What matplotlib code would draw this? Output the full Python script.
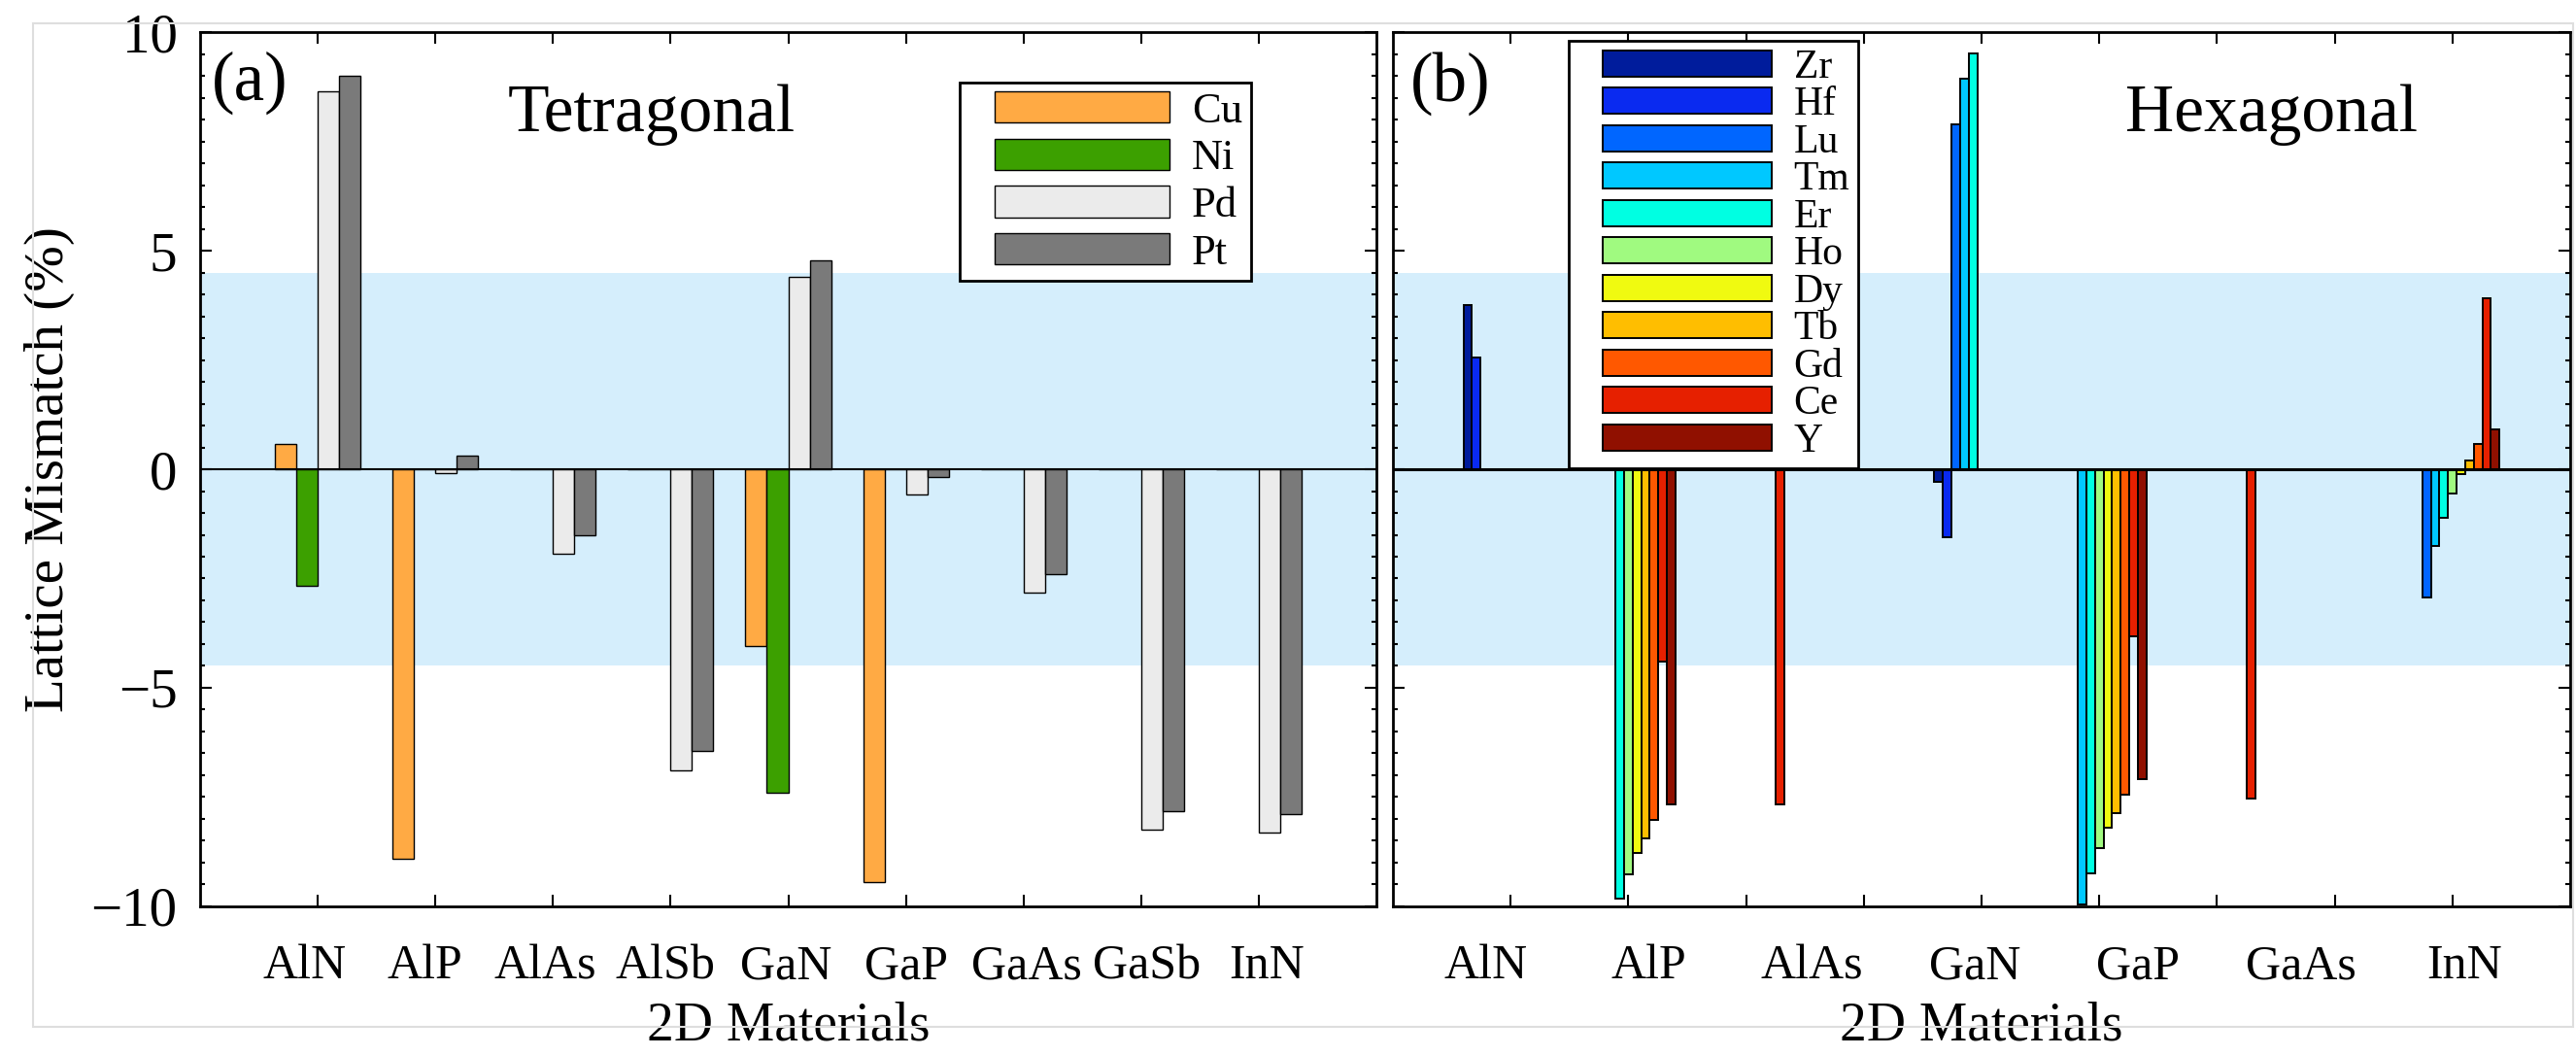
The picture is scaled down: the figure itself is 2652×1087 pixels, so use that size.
import numpy as np
import matplotlib
matplotlib.use("Agg")
import matplotlib.pyplot as plt
from matplotlib.ticker import MultipleLocator
from matplotlib.patches import Rectangle
from matplotlib.container import BarContainer
from matplotlib.legend_handler import HandlerPatch, update_from_first_child

plt.rcParams['font.family'] = ['Liberation Serif', 'DejaVu Serif']

# (a) tetragonal metal substrates
tet_materials = ["AlN", "AlP", "AlAs", "AlSb", "GaN", "GaP", "GaAs", "GaSb", "InN"]
tet_metals = ["Cu", "Ni", "Pd", "Pt"]
tet_cu = [0.57, -8.92, 0.0, 0.0, -4.05, -9.45, 0.0, 0.0, 0.0]
tet_ni = [-2.66, 0.0, 0.0, 0.0, -7.40, 0.0, 0.0, 0.0, 0.0]
tet_pd = [8.65, -0.09, -1.94, -6.88, 4.40, -0.58, -2.82, -8.25, -8.31]
tet_pt = [9.00, 0.32, -1.52, -6.45, 4.78, -0.17, -2.40, -7.82, -7.88]
tet_colors = ["#ffaa44", "#3ca000", "#ebebeb", "#7a7a7a"]

# (b) hexagonal metal substrates (nan = no bar)
nan = np.nan
hex_materials = ["AlN", "AlP", "AlAs", "GaN", "GaP", "GaAs", "InN"]
hex_slot = [1, 2, 3, 5, 6, 7, 9]
hex_metals = ["Zr", "Hf", "Lu", "Tm", "Er", "Ho", "Dy", "Tb", "Gd", "Ce", "Y"]
hex_zr = [3.75, nan, nan, -0.28, nan, nan, nan]
hex_hf = [2.55, nan, nan, -1.55, nan, nan, nan]
hex_lu = [nan, nan, nan, 7.89, nan, nan, -2.93]
hex_tm = [nan, nan, nan, 8.94, -9.96, nan, -1.76]
hex_er = [nan, -9.82, nan, 9.52, -9.25, nan, -1.10]
hex_ho = [nan, -9.27, nan, nan, -8.67, nan, -0.56]
hex_dy = [nan, -8.78, nan, nan, -8.21, nan, -0.12]
hex_tb = [nan, -8.44, nan, nan, -7.86, nan, 0.20]
hex_gd = [nan, -8.03, nan, nan, -7.45, nan, 0.57]
hex_ce = [nan, -4.39, -7.66, nan, -3.82, -7.53, 3.92]
hex_y = [nan, -7.66, nan, nan, -7.08, nan, 0.92]
hex_colors = ["#001c9c", "#0a2af0", "#0066ff", "#00c8ff", "#00ffe2", "#a0fa80",
              "#f0fa10", "#ffbe00", "#ff5800", "#e62000", "#901000"]

band = 4.5


def shifted_handler(frac):
    """Legend patch pushed right inside its handle box (wide left margin like the original)."""
    def make(legend, orig_handle, xdescent, ydescent, width, height, fontsize):
        off = frac * fontsize
        return Rectangle((-xdescent + off, -ydescent), width - off, height)
    return {BarContainer: HandlerPatch(patch_func=make, update_func=update_from_first_child)}


def style_axes(ax, label_pos, labels):
    ax.set_xlim(0, 10)
    ax.set_ylim(-10, 10)
    ax.axhspan(-band, band, color="#d5eefc", lw=0, zorder=0)
    ax.set_xticks(range(1, 10))
    ax.set_xticklabels([""] * 9)
    ax.set_xticks(label_pos, labels, minor=True)
    ax.set_yticks([-10, -5, 0, 5, 10])
    ax.yaxis.set_minor_locator(MultipleLocator(0.5))
    ax.tick_params(which="both", direction="in", top=True, right=True, width=1.5)
    ax.tick_params(which="major", length=8.5)
    ax.tick_params(axis="y", which="minor", length=3.8)
    ax.tick_params(axis="x", which="minor", length=0, labelsize=36, pad=28)
    ax.tick_params(axis="y", labelsize=41, pad=17)
    for s in ax.spines.values():
        s.set_linewidth(2)
    ax.set_xlabel("2D Materials", fontsize=40, labelpad=9)


fig = plt.figure(figsize=(26.52, 10.87), dpi=100)
ax1 = fig.add_axes([0.0777, 0.1417, 0.4566, 0.8279])
ax2 = fig.add_axes([0.5407, 0.1417, 0.4570, 0.8279])

# ---- panel (a)
x = np.arange(1, len(tet_materials) + 1)
w = 0.182
for i, (vals, name) in enumerate(zip([tet_cu, tet_ni, tet_pd, tet_pt], tet_metals)):
    ax1.bar(x + (i - 1.5) * w, vals, w, color=tet_colors[i], edgecolor="black",
            linewidth=1.0, label=name, zorder=2)
ax1.axhline(0, color="black", lw=1.5, zorder=3)
style_axes(ax1, np.linspace(0.89, 9.07, 9), tet_materials)
ax1.yaxis.set_ticklabels(["\u221210", "\u22125", "0", "5", "10"])
ax1.set_ylabel("Lattice Mismatch (%)", fontsize=41, labelpad=12)
ax1.text(0.0099, 0.923, "(a)", transform=ax1.transAxes, fontsize=51, va="baseline", ha="left")
ax1.text(0.384, 0.8867, "Tetragonal", transform=ax1.transAxes, fontsize=50, va="baseline", ha="center")
leg1 = ax1.legend(loc="upper left", bbox_to_anchor=(0.6457, 0.9422), borderaxespad=0,
                  fontsize=32, handlelength=4.66, handleheight=0.74, handletextpad=0.52,
                  labelspacing=0.18, borderpad=0.2, fancybox=False, framealpha=1,
                  edgecolor="black", handler_map=shifted_handler(0.61))
leg1.get_frame().set_linewidth(2)

# ---- panel (b)
hx = np.array(hex_slot, dtype=float)
hw = 0.8 / len(hex_metals)
hex_series = [hex_zr, hex_hf, hex_lu, hex_tm, hex_er, hex_ho, hex_dy, hex_tb, hex_gd, hex_ce, hex_y]
for i, (vals, name) in enumerate(zip(hex_series, hex_metals)):
    ax2.bar(hx + (i - 5) * hw, vals, hw, color=hex_colors[i], edgecolor="black",
            linewidth=1.4, label=name, zorder=2)
ax2.axhline(0, color="black", lw=2.2, zorder=3)
style_axes(ax2, np.linspace(0.79, 9.10, 7), hex_materials)
ax2.yaxis.set_ticklabels([])
ax2.text(0.0149, 0.922, "(b)", transform=ax2.transAxes, fontsize=51, va="baseline", ha="left")
ax2.text(0.746, 0.8867, "Hexagonal", transform=ax2.transAxes, fontsize=50, va="baseline", ha="center")
leg2 = ax2.legend(loc="upper left", bbox_to_anchor=(0.1493, 0.99), borderaxespad=0,
                  fontsize=30, handlelength=4.81, handleheight=0.62, handletextpad=0.55,
                  labelspacing=0.0, borderpad=0.2, fancybox=False, framealpha=1,
                  edgecolor="black", handler_map=shifted_handler(0.64))
leg2.get_frame().set_linewidth(2)

fig.patches.append(Rectangle((34 / 2652, 1 - 1057 / 1087), (2649 - 34) / 2652, (1057 - 24) / 1087,
                             transform=fig.transFigure, fill=False, ec="#dedede", lw=1.5))

fig.savefig("out.png", dpi=100)
